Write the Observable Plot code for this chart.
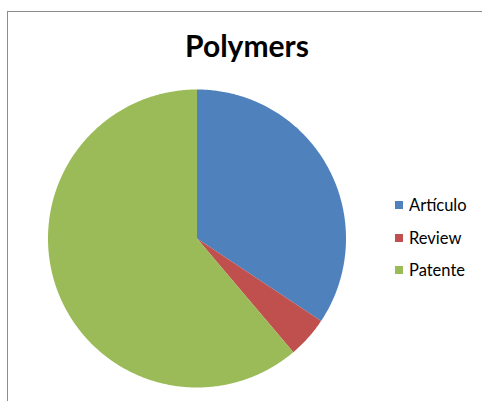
<!DOCTYPE html>
<html>
<head>
<meta charset="utf-8">
<script src="https://cdn.jsdelivr.net/npm/d3@7"></script>
<script src="https://cdn.jsdelivr.net/npm/@observablehq/plot@0.6"></script>
<style>
  html, body { margin: 0; padding: 0; background: #fff; }
  #wrap { position: relative; width: 482px; height: 401px; overflow: hidden; font-family: Lato, "Open Sans", sans-serif; }
  #frame { position: absolute; left: 7px; top: 11px; width: 500px; height: 420px; border: 1.5px solid #8c8c8c; box-sizing: border-box; }
  #title { position: absolute; left: 0; width: 494px; top: 27px; text-align: center; font-size: 30px; font-weight: bold; color: #000; }
  #chart { position: absolute; left: 0; top: 0; }
  #legend { position: absolute; left: 395px; top: 189px; }
  .row { display: flex; align-items: center; height: 32.5px; font-size: 16.5px; color: #000; }
  .sw { width: 8px; height: 8px; margin-right: 6px; }
</style>
</head>
<body>
<div id="wrap">
  <div id="frame"></div>
  <div id="chart"></div>
  <div id="title">Polymers</div>
  <div id="legend"></div>
</div>
<script>
const categories = ["Artículo", "Review", "Patente"];
const values = [23, 3, 41];
const colors = ["#4F81BD", "#C0504D", "#9BBB59"];

const data = categories.map((name, i) => ({name, value: values[i]}));
const arcs = d3.pie().sort(null).value(d => d.value)(data);

// Build slice outlines (unit radius) from the pie angles
const pts = [];
arcs.forEach(a => {
  const n = Math.max(2, Math.ceil((a.endAngle - a.startAngle) / 0.01));
  pts.push({name: a.data.name, x: 0, y: 0});
  for (let k = 0; k <= n; k++) {
    const t = a.startAngle + (a.endAngle - a.startAngle) * k / n;
    pts.push({name: a.data.name, x: Math.sin(t), y: Math.cos(t)});
  }
  pts.push({name: a.data.name, x: 0, y: 0});
});

const R = 149, cx = 196.5, cy = 238, W = 482, H = 401;
const plot = Plot.plot({
  width: W, height: H,
  margin: 0,
  x: {domain: [-cx / R, (W - cx) / R], axis: null},
  y: {domain: [-(H - cy) / R, cy / R], axis: null},
  color: {domain: categories, range: colors},
  marks: [
    Plot.line(pts, {x: "x", y: "y", z: "name", fill: "name", stroke: "none", curve: "linear"})
  ]
});
document.getElementById("chart").appendChild(plot);

const leg = document.getElementById("legend");
categories.forEach((c, i) => {
  const row = document.createElement("div");
  row.className = "row";
  row.innerHTML = `<div class="sw" style="background:${colors[i]}"></div><span>${c}</span>`;
  leg.appendChild(row);
});
</script>
</body>
</html>
